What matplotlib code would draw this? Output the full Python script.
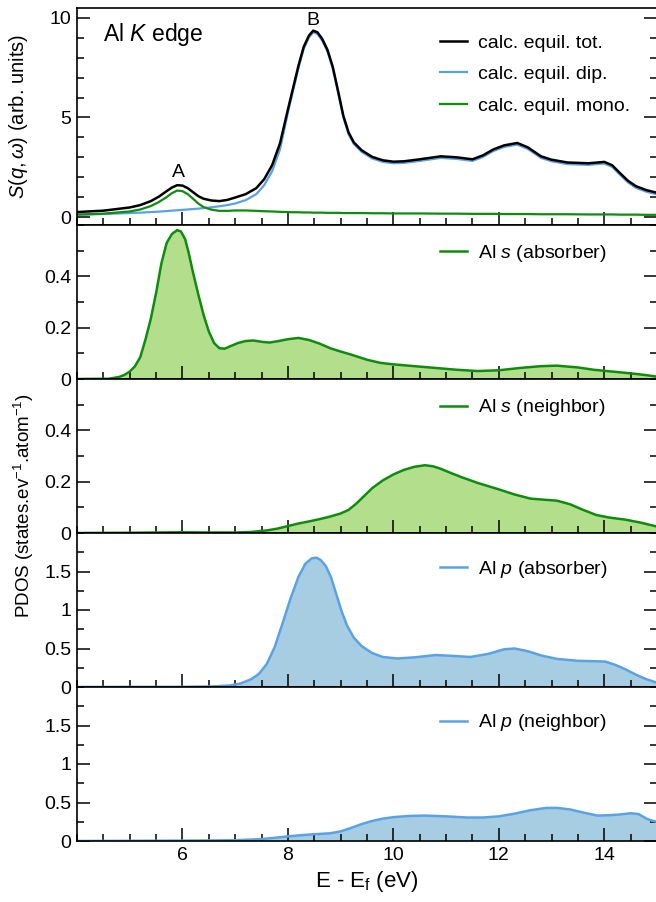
import numpy as np
import matplotlib
matplotlib.use("Agg")
import matplotlib.pyplot as plt
from matplotlib.ticker import MultipleLocator, FixedLocator

plt.rcParams['font.family'] = ['Liberation Sans', 'DejaVu Sans']
plt.rcParams['mathtext.fontset'] = 'custom'
plt.rcParams['mathtext.rm'] = 'Liberation Sans'
plt.rcParams['mathtext.it'] = 'Liberation Sans:italic'

# top panel: S(q,w) spectra
x_top = [4.0, 4.5, 5.0, 5.2, 5.4, 5.55, 5.7, 5.8, 5.9, 6.0, 6.1, 6.2, 6.3, 6.4, 6.55, 6.7,
         6.85, 7.0, 7.2, 7.4, 7.55, 7.7, 7.85, 8.0, 8.1, 8.2, 8.3, 8.4, 8.48, 8.56, 8.65,
         8.75, 8.85, 8.95, 9.05, 9.15, 9.25, 9.4, 9.6, 9.8, 10.0, 10.2, 10.5, 10.9, 11.2,
         11.5, 11.7, 11.9, 12.1, 12.35, 12.55, 12.8, 13.0, 13.3, 13.7, 14.0, 14.15, 14.3,
         14.45, 14.6, 14.8, 15.0]
s_tot = [0.25, 0.32, 0.48, 0.6, 0.8, 1.02, 1.3, 1.48, 1.6, 1.58, 1.45, 1.25, 1.05, 0.92, 0.83, 0.8,
         0.86, 0.98, 1.15, 1.45, 1.9, 2.6, 3.7, 5.4, 6.5, 7.6, 8.55, 9.12, 9.36, 9.28, 8.95,
         8.4, 7.55, 6.35, 5.1, 4.25, 3.75, 3.35, 3.02, 2.85, 2.78, 2.8, 2.9, 3.05, 3.0,
         2.9, 3.1, 3.4, 3.6, 3.72, 3.5, 3.05, 2.88, 2.74, 2.7, 2.77, 2.6, 2.2,
         1.82, 1.55, 1.35, 1.22]
s_dip = [0.12, 0.15, 0.2, 0.22, 0.25, 0.27, 0.3, 0.32, 0.34, 0.36, 0.38, 0.4, 0.42, 0.45, 0.49, 0.54,
         0.6, 0.68, 0.85, 1.15, 1.6, 2.3, 3.4, 5.25, 6.38, 7.48, 8.45, 9.03, 9.28, 9.2, 8.87,
         8.32, 7.47, 6.27, 5.02, 4.17, 3.67, 3.27, 2.94, 2.77, 2.7, 2.72, 2.82, 2.97, 2.92,
         2.82, 3.02, 3.32, 3.52, 3.64, 3.42, 2.97, 2.8, 2.66, 2.62, 2.69, 2.52, 2.12,
         1.74, 1.47, 1.27, 1.14]
s_mono = [0.12, 0.17, 0.28, 0.38, 0.55, 0.75, 1.0, 1.2, 1.33, 1.3, 1.15, 0.92, 0.68, 0.5, 0.37, 0.31,
          0.31, 0.33, 0.33, 0.31, 0.29, 0.28, 0.26, 0.25, 0.24, 0.24, 0.23, 0.23, 0.22, 0.22, 0.22,
          0.21, 0.21, 0.21, 0.2, 0.2, 0.2, 0.2, 0.19, 0.19, 0.18, 0.18, 0.18, 0.17, 0.17,
          0.16, 0.16, 0.16, 0.15, 0.15, 0.15, 0.14, 0.14, 0.14, 0.13, 0.13, 0.13, 0.12,
          0.12, 0.12, 0.11, 0.11]

# PDOS panels
x_s_abs = [4.0, 4.6, 4.8, 4.9, 5.0, 5.1, 5.2, 5.3, 5.4, 5.5, 5.6, 5.7, 5.8, 5.9, 5.97, 6.05,
           6.12, 6.2, 6.3, 6.4, 6.5, 6.6, 6.7, 6.8, 6.9, 7.05, 7.2, 7.35, 7.5, 7.65, 7.8,
           8.0, 8.2, 8.4, 8.6, 8.8, 9.0, 9.2, 9.5, 9.75, 10.0, 10.4, 10.8, 11.2, 11.6,
           12.0, 12.4, 12.8, 13.1, 13.5, 13.8, 14.1, 14.5, 14.8, 15.0]
s_abs = [0.0, 0.001, 0.008, 0.016, 0.029, 0.05, 0.085, 0.155, 0.235, 0.335, 0.45, 0.53, 0.565, 0.58, 0.575, 0.545,
         0.49, 0.415, 0.33, 0.25, 0.185, 0.14, 0.12, 0.118, 0.127, 0.14, 0.148, 0.15, 0.145, 0.142, 0.147,
         0.155, 0.16, 0.152, 0.138, 0.12, 0.107, 0.095, 0.075, 0.063, 0.057, 0.05, 0.043, 0.036, 0.031,
         0.034, 0.043, 0.05, 0.052, 0.045, 0.036, 0.03, 0.022, 0.015, 0.009]

x_s_nb = [4.0, 5.0, 5.5, 6.0, 6.5, 7.0, 7.3, 7.6, 7.8, 8.0, 8.2, 8.4, 8.6, 8.8, 9.0, 9.15,
          9.3, 9.45, 9.6, 9.8, 10.0, 10.2, 10.4, 10.6, 10.75, 10.9, 11.1, 11.3, 11.6, 12.0,
          12.3, 12.6, 12.9, 13.1, 13.35, 13.6, 13.85, 14.1, 14.4, 14.7, 15.0]
s_nb = [0.0, 0.001, 0.002, 0.003, 0.002, 0.002, 0.004, 0.01, 0.017, 0.027, 0.037, 0.045, 0.054, 0.064, 0.076, 0.09,
        0.115, 0.145, 0.175, 0.205, 0.228, 0.246, 0.258, 0.264, 0.26, 0.25, 0.233, 0.217, 0.195, 0.17,
        0.15, 0.134, 0.129, 0.126, 0.112, 0.09, 0.07, 0.06, 0.052, 0.04, 0.025]

x_p_abs = [4.0, 6.0, 6.6, 6.9, 7.1, 7.3, 7.45, 7.6, 7.75, 7.9, 8.05, 8.2, 8.33, 8.45, 8.54, 8.62,
           8.72, 8.82, 8.92, 9.02, 9.12, 9.25, 9.4, 9.6, 9.8, 10.07, 10.4, 10.8, 11.1, 11.46,
           11.8, 12.1, 12.3, 12.55, 12.8, 13.1, 13.5, 13.8, 14.02, 14.2, 14.4, 14.6, 14.8, 15.0]
p_abs = [0.0, 0.002, 0.008, 0.02, 0.045, 0.1, 0.17, 0.3, 0.52, 0.83, 1.15, 1.43, 1.6, 1.67, 1.68, 1.65,
         1.57, 1.42, 1.2, 0.98, 0.8, 0.64, 0.53, 0.44, 0.39, 0.37, 0.385, 0.415, 0.405, 0.39,
         0.43, 0.49, 0.5, 0.465, 0.41, 0.365, 0.34, 0.335, 0.33, 0.29, 0.23, 0.16, 0.1, 0.056]

x_p_nb = [4.0, 6.0, 7.0, 7.5, 7.8, 8.0, 8.3, 8.55, 8.8, 9.0, 9.2, 9.4, 9.6, 9.8, 10.0, 10.3,
          10.6, 11.0, 11.4, 11.7, 12.0, 12.3, 12.6, 12.9, 13.1, 13.35, 13.6, 13.87, 14.1,
          14.3, 14.5, 14.65, 14.8, 14.9, 15.0]
p_nb = [0.0, 0.005, 0.01, 0.025, 0.045, 0.06, 0.078, 0.09, 0.1, 0.125, 0.17, 0.22, 0.26, 0.29, 0.31, 0.325,
        0.33, 0.32, 0.305, 0.305, 0.32, 0.355, 0.4, 0.43, 0.43, 0.41, 0.37, 0.33, 0.335,
        0.345, 0.36, 0.35, 0.29, 0.265, 0.25]

green = '#0f8c0f'
green_fill = '#b3df8c'
blue = '#5aa2e6'
blue_fill = '#a6cde2'

fig = plt.figure(figsize=(6.56, 9.02), dpi=100)
left, width = 77/656, 580/656
H = 902
def pos(top, bot):
    return [left, 1 - bot/H, width, (bot - top)/H]

ax0 = fig.add_axes(pos(8, 225))
axs = [fig.add_axes(pos(225, 379)), fig.add_axes(pos(379, 533)),
       fig.add_axes(pos(533, 687)), fig.add_axes(pos(687, 841))]

def style(ax, last=False):
    ax.set_xlim(4, 15)
    ax.xaxis.set_major_locator(FixedLocator([6, 8, 10, 12, 14]))
    ax.xaxis.set_minor_locator(MultipleLocator(0.5))
    ax.tick_params(which='both', direction='in', left=True, right=True, top=False, bottom=True,
                   labelsize=14, width=1.1, pad=4)
    ax.tick_params(which='major', length=9.5)
    ax.tick_params(which='minor', length=5)
    if not last:
        ax.tick_params(axis='x', labelbottom=False)
    for s in ax.spines.values():
        s.set_linewidth(1.2)

# top panel
ax0.plot(x_top, s_dip, color=blue, lw=1.6, label='calc. equil. dip.')
ax0.plot(x_top, s_mono, color=green, lw=1.6, label='calc. equil. mono.')
ax0.plot(x_top, s_tot, color='black', lw=1.8, label='calc. equil. tot.')
ax0.set_ylim(-0.4, 10.5)
ax0.yaxis.set_major_locator(FixedLocator([0, 5, 10]))
ax0.yaxis.set_minor_locator(MultipleLocator(1))
style(ax0)
ax0.set_ylabel(r'$S(q,\omega)$ (arb. units)', fontsize=14.5)
ax0.yaxis.set_label_coords(-0.081, 0.5)
ax0.text(0.045, 0.876, r'Al $K$ edge', transform=ax0.transAxes, fontsize=16.5, va='center')
ax0.text(5.92, 2.26, 'A', fontsize=14, ha='center', va='center')
ax0.text(8.48, 9.87, 'B', fontsize=14, ha='center', va='center')
h, l = ax0.get_legend_handles_labels()
ax0.legend([h[2], h[0], h[1]], [l[2], l[0], l[1]], loc='upper left',
           bbox_to_anchor=(0.626, 0.88), frameon=False, fontsize=14,
           handlelength=1.4, handletextpad=0.57, labelspacing=0.72,
           borderpad=0, borderaxespad=0)

panels = [
    (x_s_abs, s_abs, green, green_fill, r'Al $s$ (absorber)', 0.6, [0, 0.2, 0.4], 0.1, 0.885),
    (x_s_nb, s_nb, green, green_fill, r'Al $s$ (neighbor)', 0.6, [0, 0.2, 0.4], 0.1, 0.88),
    (x_p_abs, p_abs, blue, blue_fill, r'Al $p$ (absorber)', 2.0, [0, 0.5, 1, 1.5], 0.25, 0.83),
    (x_p_nb, p_nb, blue, blue_fill, r'Al $p$ (neighbor)', 2.0, [0, 0.5, 1, 1.5], 0.25, 0.835),
]
for i, (ax, (xs, ys, lc, fc, lab, ymax, majt, mint, ly)) in enumerate(zip(axs, panels)):
    ax.fill_between(xs, 0, ys, color=fc, lw=0)
    ax.plot(xs, ys, color=lc, lw=1.8, label=lab)
    ax.set_ylim(0, ymax)
    ax.yaxis.set_major_locator(FixedLocator(majt))
    ax.set_yticklabels(['%g' % t for t in majt])
    ax.yaxis.set_minor_locator(MultipleLocator(mint))
    style(ax, last=(i == 3))
    ax.legend(loc='upper left', bbox_to_anchor=(0.626, ly), frameon=False, fontsize=14,
              handlelength=1.4, handletextpad=0.57, borderpad=0, borderaxespad=0)

axs[3].set_xlabel(r'E - E$_\mathrm{f}$ (eV)', fontsize=16, labelpad=4)
fig.text(0.036, 1 - 506/H, r'PDOS (states.ev$^{\mathrm{-1}}$.atom$^{\mathrm{-1}}$)',
         rotation=90, ha='center', va='center', fontsize=13.5)

fig.savefig('out.png', dpi=100)
